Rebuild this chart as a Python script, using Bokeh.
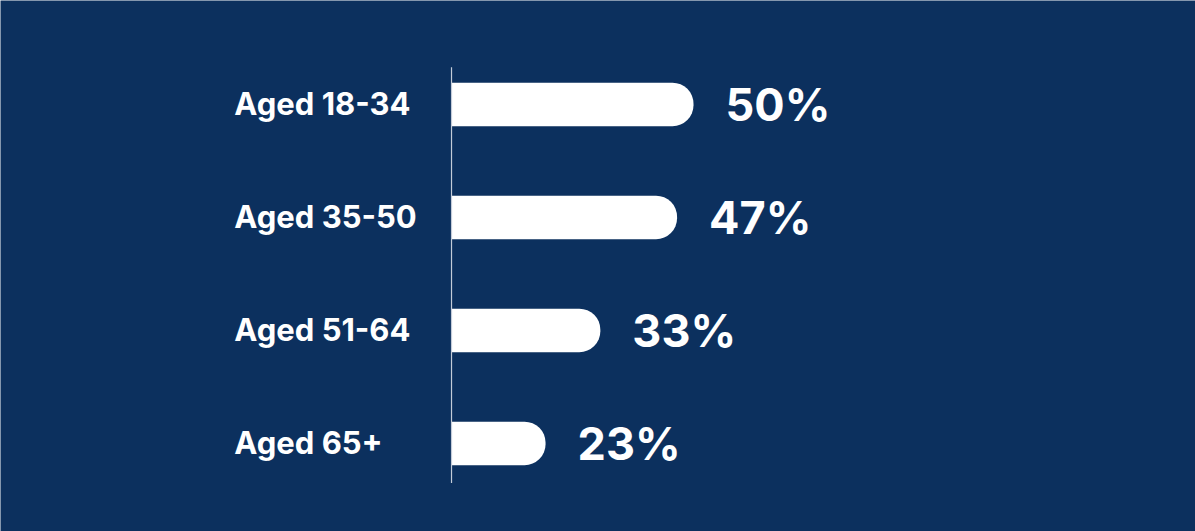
from bokeh.plotting import figure
from bokeh.models import Range1d, ColumnDataSource
from bokeh.core.properties import value
from bokeh.embed import file_html
from bokeh.resources import INLINE

categories = ["Aged 18-34", "Aged 35-50", "Aged 51-64", "Aged 65+"]
values = [50, 47, 33, 23]
value_labels = ["50%", "47%", "33%", "23%"]

BG = "#0c305e"
BASE = 5.84          # value at which the axis line sits (axis start)
LABEL_X = -33.8      # value-axis position where category labels start

idx = list(range(len(categories)))
src = ColumnDataSource(dict(y=idx, cat=categories, v=values, lab=value_labels,
                            base=[BASE] * len(values)))

p = figure(width=1195, height=531, output_backend="svg", toolbar_location=None,
           x_range=Range1d(-76.46, 141.6), y_range=Range1d(3.78, -0.92),
           x_axis_type=None, y_axis_type=None, min_border=0,
           background_fill_color=BG, border_fill_color=BG, outline_line_color=None)
p.grid.visible = False

p.hbar(y="y", left="base", right="v", height=0.385, source=src,
       fill_color="white", line_color=None, border_radius=(0, 21, 21, 0))

p.segment(x0=BASE, x1=BASE, y0=-0.33, y1=3.35, line_color="#c3cbd8", line_width=1.2)

p.text(x=LABEL_X, y="y", text="cat", source=src, text_color="white",
       text_font=value("Inter"), text_font_style="bold", text_font_size="31px",
       text_align="left", text_baseline="middle", y_offset=-1)

p.text(x="v", y="y", text="lab", source=src, text_color="white",
       text_font=value("Inter"), text_font_style="bold", text_font_size="45px",
       text_align="left", text_baseline="middle", x_offset=32, y_offset=0)

html = file_html(p, INLINE)
html = html.replace("<body>", '<body style="margin:0;background:%s">' % BG, 1)
open("out.html", "w").write(html)
